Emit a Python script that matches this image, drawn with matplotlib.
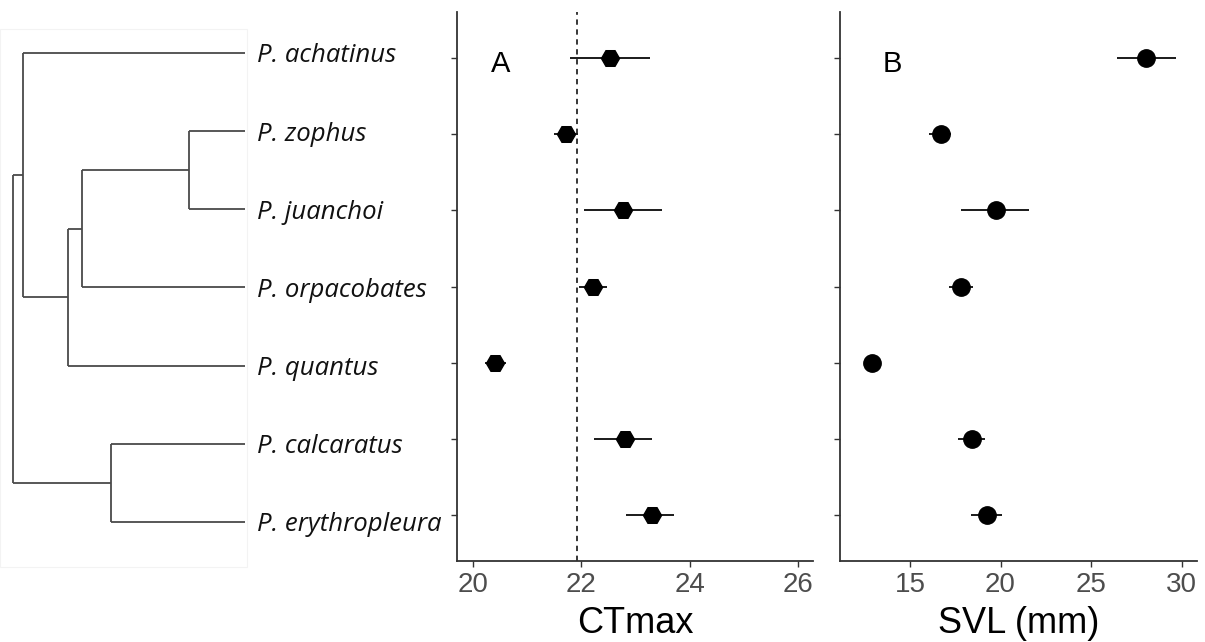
import numpy as np
import matplotlib.pyplot as plt
from matplotlib.patches import Rectangle

# species, top to bottom
species = ["P. achatinus", "P. zophus", "P. juanchoi", "P. orpacobates",
           "P. quantus", "P. calcaratus", "P. erythropleura"]

# panel A: CTmax mean and interval
ct_mean = [22.53, 21.71, 22.76, 22.22, 20.40, 22.80, 23.30]
ct_low = [21.78, 21.50, 22.04, 21.96, 20.21, 22.24, 22.83]
ct_high = [23.26, 21.93, 23.49, 22.48, 20.61, 23.30, 23.72]
ct_ref = 21.92

# panel B: SVL (mm) mean and interval
svl_mean = [28.02, 16.69, 19.75, 17.81, 12.92, 18.40, 19.23]
svl_low = [26.41, 16.07, 17.81, 17.17, 12.75, 17.67, 18.37]
svl_high = [29.68, 17.25, 21.59, 18.46, 13.10, 19.14, 20.10]

# cladogram: internal nodes, relative depth (root=0, tips=1), children
node_names = ["root", "n1", "n2", "n3", "n4", "n5"]
node_depth = [0.0, 0.043, 0.237, 0.300, 0.760, 0.423]
node_children = [
    ("n1", "n5"),
    ("P. achatinus", "n2"),
    ("n3", "P. quantus"),
    ("n4", "P. orpacobates"),
    ("P. zophus", "P. juanchoi"),
    ("P. calcaratus", "P. erythropleura"),
]

rows = np.arange(len(species), 0, -1)
W, H = 1205, 642
fig = plt.figure(figsize=(W / 100, H / 100), dpi=100)

# ---------------- tree ----------------
axt = fig.add_axes([0, (H - 567) / H, 247 / W, (567 - 29) / H])
axt.set_xlim(-0.0547, 1.0086)
axt.set_ylim(0.424, 7.307)
axt.axis("off")
axt.add_patch(Rectangle((0, 0), 1, 1, transform=axt.transAxes, fill=False,
                        edgecolor="#f3f3f3", lw=0.8, clip_on=False))

pos = {s: (1.0, r) for s, r in zip(species, rows)}
depth = dict(zip(node_names, node_depth))
children = dict(zip(node_names, node_children))


def node_y(name):
    if name in pos:
        return pos[name][1]
    return np.mean([node_y(c) for c in children[name]])


tree_kw = dict(color="#4a4a4a", lw=1.3, solid_capstyle="butt")
for name in node_names:
    x0 = depth[name]
    ys = [node_y(c) for c in children[name]]
    axt.plot([x0, x0], [min(ys), max(ys)], **tree_kw)
    for c, yc in zip(children[name], ys):
        xc = pos[c][0] if c in pos else depth[c]
        axt.plot([x0, xc], [yc, yc], **tree_kw)

for s, r in zip(species, rows):
    axt.text(1.052, r, s, fontsize=18.5, fontstyle="italic", family="Open Sans",
             va="center_baseline", ha="left", clip_on=False, color="#111111")


# ---------------- dot plots ----------------
def style_axis(ax, xlim, ticks, xlabel):
    ax.set_xlim(*xlim)
    ax.set_ylim(0.4, 7.6)
    ax.set_yticks(rows)
    ax.set_yticklabels([])
    ax.set_xticks(ticks)
    ax.set_xticklabels([str(t) for t in ticks], family="Liberation Sans",
                       fontsize=20, color="#4d4d4d")
    for sp in ["top", "right"]:
        ax.spines[sp].set_visible(False)
    for sp in ["left", "bottom"]:
        ax.spines[sp].set_color("#333333")
        ax.spines[sp].set_linewidth(1.3)
    ax.tick_params(length=4, width=1.0, color="#333333", pad=4)
    ax.set_xlabel(xlabel, family="Liberation Sans", fontsize=26, labelpad=6)


axA = fig.add_axes([457 / W, (H - 561) / H, (813 - 457) / W, (561 - 12) / H])
axA.axvline(ct_ref, color="black", lw=1.1, linestyle=(0, (3.5, 3.0)))
axA.hlines(rows, ct_low, ct_high, color="#1a1a1a", lw=1.4)
axA.plot(ct_mean, rows, linestyle="none", marker="H", ms=13, color="black")
style_axis(axA, (19.7, 26.28), [20, 22, 24, 26], "CTmax")
axA.text(20.5, 6.92, "A", family="Liberation Sans", fontsize=21,
         ha="center", va="center")

axB = fig.add_axes([840 / W, (H - 561) / H, (1197 - 840) / W, (561 - 12) / H])
axB.hlines(rows, svl_low, svl_high, color="#1a1a1a", lw=1.4)
axB.plot(svl_mean, rows, linestyle="none", marker="o", ms=12.5, color="black")
style_axis(axB, (11.14, 30.84), [15, 20, 25, 30], "SVL (mm)")
axB.text(14.0, 6.92, "B", family="Liberation Sans", fontsize=21,
         ha="center", va="center")

fig.savefig("out.png", dpi=100)
